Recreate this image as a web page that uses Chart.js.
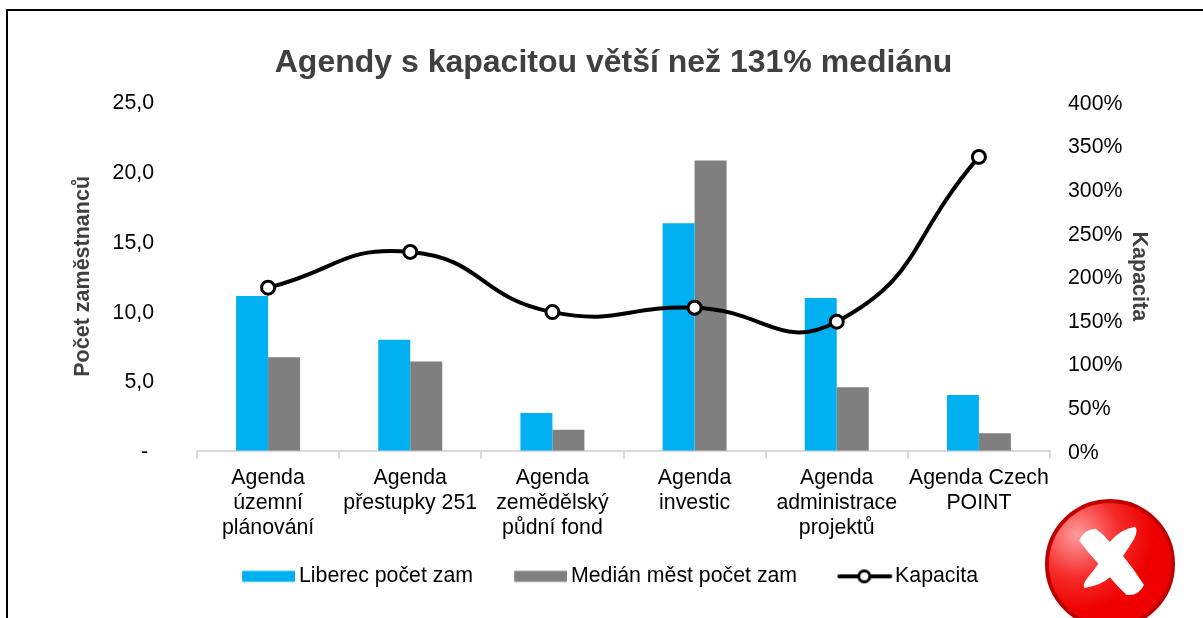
<!DOCTYPE html>
<html><head><meta charset="utf-8">
<style>
html,body{margin:0;padding:0;background:#fff;overflow:hidden}
#wrap{position:relative;width:1203px;height:618px}
canvas{position:absolute;left:0;top:0}
#frame{position:absolute;left:6px;top:9px;width:1203px;height:640px;border-left:2px solid #000;border-top:2px solid #000;box-sizing:border-box;pointer-events:none}
svg{position:absolute;left:0;top:0;pointer-events:none}
</style>
<script src="https://cdn.jsdelivr.net/npm/chart.js@4"></script>
</head><body>
<div id="wrap">
<canvas id="c" width="1203" height="618"></canvas>
<div id="frame"></div>
<svg width="1203" height="618" viewBox="0 0 1203 618">
<defs><radialGradient id="g" gradientUnits="userSpaceOnUse" cx="1077" cy="535" r="95">
<stop offset="0" stop-color="#ff9c9c"/><stop offset=".45" stop-color="#f52a2a"/><stop offset=".8" stop-color="#ee0000"/><stop offset="1" stop-color="#ee0000"/></radialGradient></defs>
<circle cx="1110" cy="564" r="63" fill="url(#g)" stroke="#c00000" stroke-width="4"/>
<g transform="translate(1000 470) scale(.33333)"><path fill="#fff" d="M238,212 Q250,178 287,176 Q312,193 329,216 Q360,178 405,170 Q416,180 402,207 Q384,237 369,258 Q404,300 432,345 Q417,378 380,375 Q350,348 330,322 Q300,348 253,354 Q246,345 262,324 Q282,300 295,281 Q262,245 238,212 Z"/></g>
</svg>
</div>
<script>
const categories=[["Agenda","územní","plánování"],["Agenda","přestupky 251"],["Agenda","zemědělský","půdní fond"],["Agenda","investic"],["Agenda","administrace","projektů"],["Agenda Czech","POINT"]];
const liberec=[11.1,7.95,2.7,16.3,10.95,4.0];
const median=[6.7,6.4,1.5,20.8,4.55,1.25];
const kapacita=[1.87,2.28,1.59,1.64,1.48,3.37];
const legendLabels=['Liberec počet zam','Medián měst počet zam','Kapacita'];
const chartTitle="Agendy s kapacitou větší než 131% mediánu";
const FF='"Liberation Sans",Arial,sans-serif';
const FS=21.3;
function swatch(color){const c=document.createElement('canvas');c.width=60;c.height=14;const x=c.getContext('2d');x.fillStyle=color;x.fillRect(7,1.5,53,11);return c;}
function lineSwatch(){const c=document.createElement('canvas');c.width=64;c.height=18;const x=c.getContext('2d');x.strokeStyle='#000';x.lineWidth=4;x.lineCap='round';x.beginPath();x.moveTo(10,9);x.lineTo(61,9);x.stroke();x.fillStyle='#fff';x.lineWidth=3;x.beginPath();x.arc(35,9,5.5,0,Math.PI*2);x.fill();x.stroke();return c;}
const icons=[swatch('#00B0F0'),swatch('#7F7F7F'),lineSwatch()];
const placeBoxes={id:'placeBoxes',afterLayout(ch){
  const x=ch.scales.x; x.bottom=x.top+95; x.height=95;
  ch.legend.left-=3.5; ch.legend.right-=3.5;
}};
new Chart(document.getElementById('c'),{
 plugins:[placeBoxes],
 data:{labels:categories,datasets:[
  {type:'line',label:'Kapacita',data:kapacita,yAxisID:'y2',borderColor:'#000',borderWidth:4,tension:.5,pointRadius:6.5,pointHoverRadius:6.5,pointBackgroundColor:'#fff',pointBorderColor:'#000',pointBorderWidth:3,order:0},
  {type:'bar',label:legendLabels[0],data:liberec,yAxisID:'y',backgroundColor:'#00B0F0',categoryPercentage:.45,barPercentage:1,order:1},
  {type:'bar',label:legendLabels[1],data:median,yAxisID:'y',backgroundColor:'#7F7F7F',categoryPercentage:.45,barPercentage:1,order:1}
 ]},
 options:{responsive:false,animation:false,
  layout:{padding:{left:24,right:0,top:0,bottom:21}},
  plugins:{
   title:{display:true,text:chartTitle,color:'#404040',font:{family:FF,size:32,weight:'bold',lineHeight:1.2},padding:{top:44,bottom:19.6}},
   legend:{position:'bottom',labels:{usePointStyle:true,pointStyleWidth:46.35,boxHeight:14,padding:41,color:'#000',font:{family:FF,size:FS},
     generateLabels(ch){return legendLabels.map((t,i)=>({text:t,pointStyle:icons[i],fontColor:'#000',lineWidth:0,strokeStyle:'transparent',fillStyle:'transparent',datasetIndex:ch.data.datasets.findIndex(d=>d.label===t)}));}
   }},
   tooltip:{enabled:false}
  },
  scales:{
   x:{offset:true,grid:{drawOnChartArea:false,color:'#D9D9D9',lineWidth:2,tickLength:8,tickColor:'#D9D9D9'},border:{color:'#D9D9D9',width:2},
      ticks:{color:'#000',padding:7,maxRotation:0,autoSkip:false,font:{family:FF,size:FS,lineHeight:25/FS}},
      afterFit(s){s.height=74;}},
   y:{position:'left',min:0,max:25,grid:{display:false},border:{display:false},
      ticks:{stepSize:5,color:'#000',padding:35,labelOffset:1.5,font:{family:FF,size:FS},callback:v=>v===0?'-\u00a0':v.toFixed(1).replace('.',',')},
      title:{display:true,text:'Počet zaměstnanců',color:'#404040',font:{family:FF,size:21.5,weight:'bold',lineHeight:1.2},padding:{top:46,bottom:0}},
      afterFit(s){s.width=173;}},
   y2:{position:'right',min:0,max:4,grid:{display:false},border:{display:false},
      ticks:{stepSize:.5,color:'#000',padding:10,labelOffset:2,font:{family:FF,size:FS},callback:v=>Math.round(v*100)+'%'},
      title:{display:true,text:'Kapacita',color:'#404040',font:{family:FF,size:21.5,weight:'bold',lineHeight:1.2},padding:{top:51,bottom:0}},
      afterFit(s){s.width=153;}}
  }
 }
});
</script>
</body></html>
